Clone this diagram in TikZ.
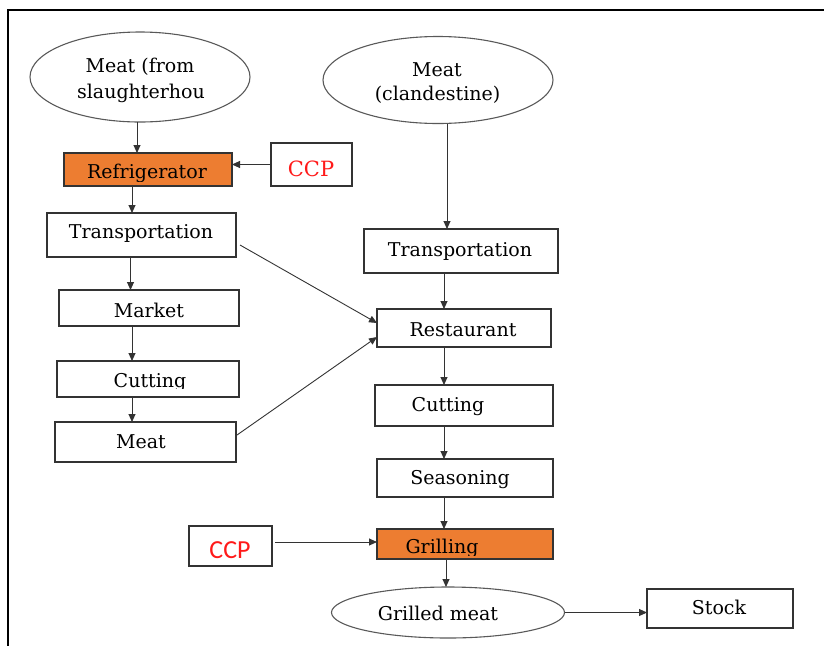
\documentclass[tikz,border=0pt]{standalone}
\usepackage{fontspec}
\setmainfont{DejaVu Serif}
\newfontfamily\ccpsans{Carlito}
\usetikzlibrary{shapes.geometric,arrows.meta,calc}
\definecolor{ovenorange}{HTML}{ED7D31}
\definecolor{ccpred}{HTML}{FF1A1A}
\definecolor{boxline}{HTML}{333333}
\begin{document}
\begin{tikzpicture}[x=1pt,y=-1pt,
  box/.style={draw=boxline,line width=1.6pt,rectangle,inner sep=0pt,outer sep=0pt},
  hot/.style={box,fill=ovenorange},
  oval/.style={draw=black!65,line width=1.1pt,ellipse,inner sep=0pt,outer sep=0pt},
  lbl/.style={anchor=base,inner sep=0pt,font=\fontsize{19}{22}\selectfont},
  ccpserif/.style={anchor=base,inner sep=0pt,text=ccpred,font=\fontsize{21}{24}\selectfont},
  ccpsans/.style={anchor=base,inner sep=0pt,text=ccpred,font=\ccpsans\fontsize{26}{29}\selectfont},
  arr/.style={draw=black!80,line width=0.9pt,-{Triangle[length=8pt,width=7pt]}}]
\useasboundingbox (0,0) rectangle (824,646);
% outer frame: top and left rules only
\draw[line width=2pt] (824,10) -- (8,10) -- (8,646);

% ---- shapes ----
\node[oval,minimum width=220,minimum height=90] (e1) at (140,77) {};
\node[oval,minimum width=230,minimum height=87] (e2) at (438,80) {};
\node[hot,minimum width=168,minimum height=33] (refr) at (148,169.5) {};
\node[box,minimum width=81,minimum height=43] (ccp1) at (311.5,164.5) {};
\node[box,minimum width=189,minimum height=44] (trL) at (141.5,235) {};
\node[box,minimum width=180,minimum height=36] (mkt) at (149,308) {};
\node[box,minimum width=182,minimum height=36] (cutL) at (148,379) {};
\node[box,minimum width=181,minimum height=40] (meatL) at (145.5,442) {};
\node[box,minimum width=194,minimum height=44] (trR) at (461,251) {};
\node[box,minimum width=174,minimum height=38] (rest) at (464,328) {};
\node[box,minimum width=178,minimum height=41] (cutR) at (464,405.5) {};
\node[box,minimum width=176,minimum height=38] (seas) at (465,478) {};
\node[hot,minimum width=176,minimum height=30] (grill) at (465,544) {};
\node[box,minimum width=83,minimum height=40] (ccp2) at (230.5,546) {};
\node[oval,minimum width=233,minimum height=51] (gm) at (448,612.5) {};
\node[box,minimum width=146,minimum height=39] (stock) at (720,608.5) {};

% ---- labels ----
\node[lbl] (t-e1a) at (140,72) {Meat (from};
\node[lbl] (t-e1b) at (141,98) {slaughterhou};
\node[lbl] (t-e2a) at (437,76) {Meat};
\node[lbl] (t-e2b) at (437.5,100) {(clandestine)};
\begin{scope}
  \clip (65,154) rectangle (231,181);
  \node[lbl] (t-refr) at (147,178) {Refrigerator};
\end{scope}
\node[ccpserif] (t-ccp1) at (311,176) {CCP};
\node[lbl] (t-trL) at (141,238) {Transportation};
\node[lbl] (t-mkt) at (149,317) {Market};
\begin{scope}
  \clip (58,362) rectangle (238,388.5);
  \node[lbl] (t-cutL) at (150,387) {Cutting};
\end{scope}
\node[lbl] (t-meatL) at (141,448) {Meat};
\node[lbl] (t-trR) at (460,256) {Transportation};
\node[lbl] (t-rest) at (463,336) {Restaurant};
\node[lbl] (t-cutR) at (448,411) {Cutting};
\node[lbl] (t-seas) at (460,484) {Seasoning};
\begin{scope}
  \clip (378,530) rectangle (552,555);
  \node[lbl] (t-grill) at (442,553) {Grilling};
\end{scope}
\node[ccpsans] (t-ccp2) at (230,558) {CCP};
\node[lbl] (t-gm) at (438,620) {Grilled meat};
\node[lbl] (t-stock) at (719,614) {Stock};

% ---- connectors ----
\draw[arr] ($(e1.south)+(-3,0)$) -- ($(e1.south |- refr.north)+(-3,0)$);
\draw[arr] (ccp1.west) -- (ccp1.west -| refr.east);
\draw[arr] ($(refr.south)+(-16,0)$) -- ($(refr.south |- trL.north)+(-16,0)$);
\draw[arr] ($(trL.south)+(-11,0)$) -- ($(trL.south |- mkt.north)+(-11,0)$);
\draw[arr] ($(mkt.south)+(-17,0)$) -- ($(mkt.south |- cutL.north)+(-17,0)$);
\draw[arr] ($(cutL.south)+(-16,0)$) -- ($(cutL.south |- meatL.north)+(-16,0)$);
\draw[arr] ($(trL.east)+(4,10)$) -- ($(rest.west)+(0,-5)$);
\draw[arr] ($(meatL.east)+(1,-7)$) -- ($(rest.west)+(0,9)$);
\draw[arr] ($(e2.south)+(9,0)$) -- ($(e2.south |- trR.north)+(9,0)$);
\draw[arr] ($(trR.south)+(-17,0)$) -- ($(trR.south |- rest.north)+(-17,0)$);
\draw[arr] ($(rest.south)+(-20,0)$) -- ($(rest.south |- cutR.north)+(-20,0)$);
\draw[arr] ($(cutR.south)+(-20,0)$) -- ($(cutR.south |- seas.north)+(-20,0)$);
\draw[arr] ($(seas.south)+(-21,0)$) -- ($(seas.south |- grill.north)+(-21,0)$);
\draw[arr] ($(ccp2.east)+(3,-4)$) -- ($(ccp2.east -| grill.west)+(0,-4)$);
\draw[arr] ($(gm.north |- grill.south)+(-2,0)$) -- ($(gm.north)+(-2,0)$);
\draw[arr] (gm.east) -- (gm.east -| stock.west);
\end{tikzpicture}
\end{document}
